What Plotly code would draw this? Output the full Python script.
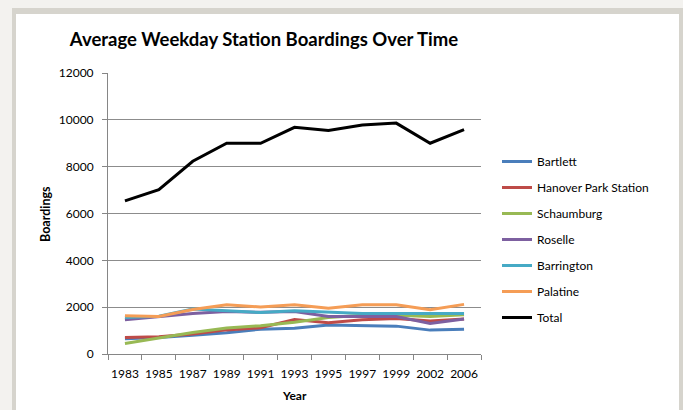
import plotly.graph_objects as go

years = ["1983", "1985", "1987", "1989", "1991", "1993", "1995", "1997", "1999", "2002", "2006"]

bartlett = [650, 700, 800, 910, 1060, 1100, 1240, 1200, 1190, 1020, 1060]
hanover = [700, 740, 850, 1030, 1120, 1470, 1340, 1460, 1520, 1410, 1490]
schaumburg = [450, 680, 920, 1110, 1210, 1360, 1560, 1650, 1650, 1600, 1680]
roselle = [1460, 1580, 1730, 1810, 1780, 1810, 1600, 1600, 1600, 1300, 1490]
barrington = [1560, 1610, 1920, 1850, 1770, 1850, 1780, 1730, 1730, 1730, 1730]
palatine = [1630, 1600, 1900, 2100, 2010, 2100, 1950, 2100, 2100, 1890, 2120]
total = [6540, 7020, 8230, 9000, 9000, 9680, 9550, 9780, 9860, 9000, 9580]

series = [
    ("Bartlett", bartlett, "#4a7ebb"),
    ("Hanover Park Station", hanover, "#be4b48"),
    ("Schaumburg", schaumburg, "#98b954"),
    ("Roselle", roselle, "#7d60a0"),
    ("Barrington", barrington, "#46aac5"),
    ("Palatine", palatine, "#f59d56"),
    ("Total", total, "#000000"),
]

FONT = "Lato"

fig = go.Figure()
for i, (name, vals, color) in enumerate(series):
    fig.add_trace(go.Scatter(
        x=years, y=vals, name=name, mode="lines",
        line=dict(color=color, width=3),
        legendgroup=f"g{i}",
    ))

# plot area in pixels
L, R, T, B = 108, 481, 73, 354
W, H = 683, 410
pw, ph = R - L, B - T

def px_x(p):
    return (p - L) / pw

def px_y(p):
    return (B - p) / ph

shapes = [
    dict(type="rect", xref="paper", yref="paper", layer="below",
         x0=px_x(12), x1=px_x(690), y0=px_y(420), y1=px_y(8),
         fillcolor="#d6d4cd", line=dict(width=0)),
    dict(type="rect", xref="paper", yref="paper", layer="below",
         x0=px_x(16), x1=px_x(679), y0=px_y(420), y1=px_y(14),
         fillcolor="#ffffff", line=dict(width=0)),
]

fig.update_layout(
    width=W, height=H,
    margin=dict(l=L, r=W - R, t=T, b=H - B, autoexpand=False),
    paper_bgcolor="#f3f2ef",
    plot_bgcolor="rgba(0,0,0,0)",
    font=dict(family=FONT, size=12, color="#000000"),
    title=dict(text="<b>Average Weekday Station Boardings Over Time</b>",
               x=264 / W, xanchor="center", y=1 - 40 / H, yanchor="middle",
               font=dict(family=FONT, size=18.5, color="#000000")),
    showlegend=True,
    legend=dict(x=px_x(497), xanchor="left", y=px_y(147), yanchor="top",
                bgcolor="rgba(0,0,0,0)", tracegroupgap=7,
                font=dict(family=FONT, size=12, color="#000000")),
    shapes=shapes,
    annotations=[
        dict(text="<b>Boardings</b>", xref="paper", yref="paper",
             x=px_x(45), y=px_y(214), xanchor="center", yanchor="middle",
             textangle=-90, showarrow=False,
             font=dict(family=FONT, size=12.5, color="#000000")),
        dict(text="<b>Year</b>", xref="paper", yref="paper",
             x=px_x(294), y=px_y(395), xanchor="center", yanchor="middle",
             showarrow=False,
             font=dict(family=FONT, size=12, color="#000000")),
    ],
)

fig.update_xaxes(
    type="category", range=[-0.5, len(years) - 0.5],
    showgrid=False, showline=True, linecolor="#868686", linewidth=1,
    ticks="outside", tickson="boundaries", ticklen=5, tickcolor="#868686",
    ticklabelstandoff=9, tickangle=0,
    tickfont=dict(family=FONT, size=12, color="#000000"),
)
fig.update_yaxes(
    range=[0, 12000], dtick=2000, tickformat="d", showgrid=True, gridcolor="#8c8c8c", gridwidth=1,
    showline=True, linecolor="#868686", linewidth=1, zeroline=False,
    ticks="outside", ticklen=5, tickcolor="#868686", ticklabelstandoff=6,
    tickfont=dict(family=FONT, size=12, color="#000000"),
)

fig.write_html("out.html", config={"displayModeBar": False},
               post_script="document.body.style.margin='0';")
